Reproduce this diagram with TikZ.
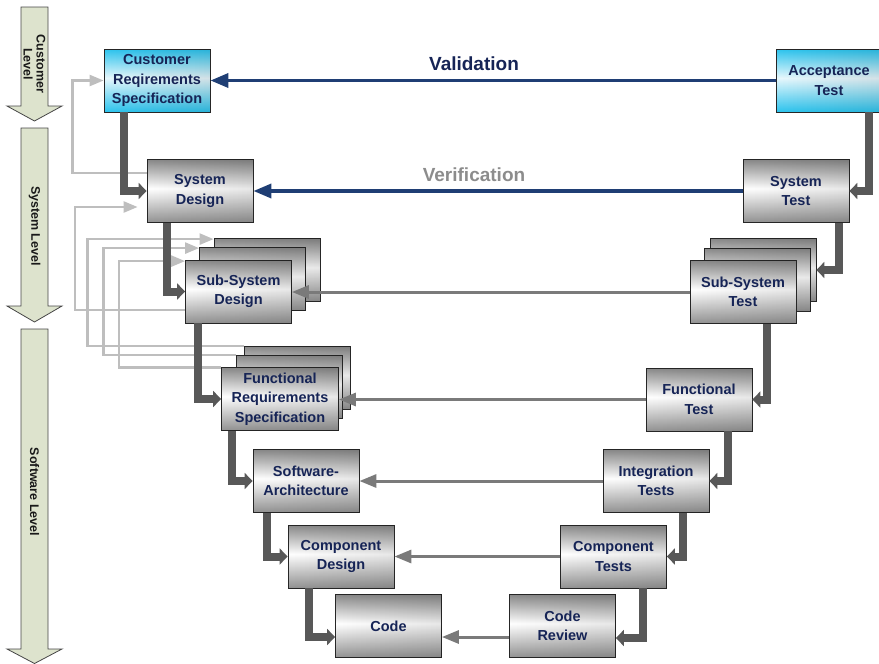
\documentclass[tikz,border=0pt]{standalone}
\usepackage{fontspec}
\setmainfont{Liberation Sans}
\usetikzlibrary{arrows.meta,fadings,backgrounds}

\definecolor{txtnavy}{RGB}{22,36,86}
\definecolor{navyline}{RGB}{31,62,116}
\definecolor{boxgrey}{RGB}{136,136,136}
\definecolor{boxgreyb}{RGB}{146,146,146}
\definecolor{cyanbox}{RGB}{44,196,238}
\definecolor{cyanlight}{RGB}{232,248,253}
\definecolor{darkconn}{RGB}{88,88,88}
\definecolor{midconn}{RGB}{122,122,122}
\definecolor{fbgrey}{RGB}{190,190,190}
\definecolor{levelfill}{RGB}{221,227,205}
\definecolor{levelline}{RGB}{70,70,70}
\definecolor{verifgrey}{RGB}{140,140,140}

% box shadings: darker top and bottom, light band a little below the middle
\pgfdeclareverticalshading{greyshade}{100bp}{color(0bp)=(boxgreyb); color(25bp)=(boxgreyb); color(52bp)=(white); color(75bp)=(boxgrey); color(100bp)=(boxgrey)}
\pgfdeclareverticalshading{cyanshade}{100bp}{color(0bp)=(cyanbox); color(25bp)=(cyanbox); color(52bp)=(cyanlight); color(75bp)=(cyanbox); color(100bp)=(cyanbox)}
% slight darkening towards the right edge of each box
\tikzfading[name=edgedark, left color=transparent!100, middle color=transparent!100, right color=transparent!50]

\tikzset{
  stage/.style={draw=black!85, line width=0.8pt, shading=greyshade,
    minimum width=106pt, minimum height=63pt, inner sep=0pt, align=center,
    text=txtnavy, font=\fontsize{14.5}{19.5}\selectfont\bfseries,
    postaction={fill=black, fill opacity=0.18, path fading=edgedark}},
  custstage/.style={stage, shading=cyanshade},
  thickconn/.style={draw=darkconn, line width=8pt, -{Triangle[length=8pt,width=16pt]}},
  flow/.style={draw=midconn, line width=3pt, -{Triangle[length=17pt,width=13pt]}},
  navyflow/.style={draw=navyline, line width=3.5pt, -{Triangle[length=18pt,width=14pt]}},
  fb/.style={draw=fbgrey, line width=2.5pt, -{Triangle[length=14pt,width=11pt]}},
  levelshape/.style={fill=levelfill, draw=levelline, line width=0.8pt},
  leveltext/.style={rotate=-90, align=center, text=black!90,
    font=\fontsize{12.5}{13}\selectfont\bfseries},
  headline/.style={font=\fontsize{19}{22}\selectfont\bfseries}
}

\begin{document}
\begin{tikzpicture}[x=1pt,y=-1pt]
\useasboundingbox (0,0) rectangle (879,664);

% level arrows on the left
\filldraw[levelshape] (21,7) -- (48,7) -- (48,106) -- (62,106) -- (34.5,121) -- (7,106) -- (21,106) -- cycle;
\filldraw[levelshape] (21,128) -- (48,128) -- (48,306) -- (62,306) -- (34.5,322) -- (7,306) -- (21,306) -- cycle;
\filldraw[levelshape] (21,329) -- (48,329) -- (48,649) -- (62,649) -- (34.5,663.5) -- (7,649) -- (21,649) -- cycle;
\node[leveltext] (lvcust) at (34.5,64) {Customer\\Level};
\node[leveltext] (lvsys) at (34.5,226) {System Level};
\node[leveltext] (lvsw) at (34.5,492) {Software Level};

% stacked back layers
\node[stage] (ssdb) at (267,270) {};
\node[stage] (ssdm) at (252.5,279) {};
\node[stage] (sstb) at (763,270) {};
\node[stage] (sstm) at (757.5,279.5) {};
\node[stage] (frsb) at (297,377.5) {};
\node[stage] (frsm) at (289,386.5) {};

% stages
\node[custstage] (crs) at (157,80.5) {Customer\\Reqirements\\Specification};
\node[custstage] (at) at (829,80.5) {Acceptance\\Test};
\node[stage] (sd) at (200,191) {System\\Design};
\node[stage] (st) at (796,191) {System\\Test};
\node[stage] (ssd) at (238.5,291.5) {Sub-System\\Design};
\node[stage] (sst) at (743,292) {Sub-System\\Test};
\node[stage, minimum width=117pt] (frs) at (280,399) {Functional\\Requirements\\Specification};
\node[stage] (ft) at (699,399.5) {Functional\\Test};
\node[stage] (sa) at (306,481) {Software-\\Architecture};
\node[stage] (it) at (656,481) {Integration\\Tests};
\node[stage] (cd) at (341,556.5) {Component\\Design};
\node[stage] (ct) at (613.5,556.5) {Component\\Tests};
\node[stage] (code) at (388.5,626) {Code};
\node[stage] (cr) at (562.5,626) {Code\\Review};

% feedback lines back up the left side, behind the boxes
\begin{scope}[on background layer]
\draw[fb] ([yshift=18pt]sd.west) -- ++(-74,0) |- (crs.west);
\draw[fb] ([yshift=-18.5pt]ssd.west) -- ++(-110,0) |- ([xshift=-9pt,yshift=-16pt]sd.west);
\draw[fb] ([yshift=-0.5pt]frsb.north west) -- ++(-156,0) |- ([yshift=-1pt]ssdb.north west);
\draw[fb] ([yshift=-0.5pt]frsm.north west) -- ++(-132,0) |- ([yshift=-1pt]ssdm.north west);
\draw[fb] ([yshift=-0.5pt]frs.north west) -- ++(-102,0) |- ([yshift=-1.5pt]ssd.north west);
\end{scope}

% descending flow on the left
\draw[thickconn] ([xshift=20pt]crs.south west) |- (sd.west);
\draw[thickconn] ([xshift=20pt]sd.south west) |- (ssd.west);
\draw[thickconn] ([xshift=13pt]ssd.south west) |- (frs.west);
\draw[thickconn] ([xshift=11pt]frs.south west) |- (sa.west);
\draw[thickconn] ([xshift=14pt]sa.south west) |- (cd.west);
\draw[thickconn] ([xshift=21pt]cd.south west) |- ([yshift=-11pt]code.west);

% descending flow on the right
\draw[thickconn] ([xshift=-13pt]at.south east) |- (st.east);
\draw[thickconn] ([xshift=-10pt]st.south east) |- (sstb.east);
\draw[thickconn] ([xshift=-29pt]sst.south east) |- (ft.east);
\draw[thickconn] ([xshift=-24pt]ft.south east) |- (it.east);
\draw[thickconn] ([xshift=-26pt]it.south east) |- (ct.east);
\draw[thickconn] ([xshift=-24pt]ct.south east) |- ([yshift=-12pt]cr.east);

% validation and verification arrows
\draw[navyflow] (at.west) -- (at.west -| crs.east);
\draw[navyflow] (st.west) -- (st.west -| sd.east);
\draw[flow] (sst.west) -- (sst.west -| ssd.east);
\draw[flow] (ft.west) -- (ft.west -| frs.east);
\draw[flow] (it.west) -- (it.west -| sa.east);
\draw[flow] (ct.west) -- (ct.west -| cd.east);
\draw[flow] ([yshift=-11pt]cr.west) -- ([yshift=-11pt]cr.west -| code.east);

\node[headline, text=txtnavy] (valtxt) at (474,64) {Validation};
\node[headline, text=verifgrey] (vertxt) at (474,175) {Verification};
\end{tikzpicture}
\end{document}
